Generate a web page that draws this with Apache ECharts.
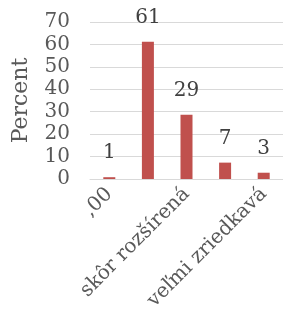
<!DOCTYPE html>
<html>
<head>
<meta charset="utf-8">
<script src="https://cdn.jsdelivr.net/npm/echarts@6/dist/echarts.min.js"></script>
<style>
html, body { margin: 0; padding: 0; background: #fff; }
#chart { width: 283px; height: 327px; }
</style>
</head>
<body>
<div id="chart"></div>
<script>
// data
const categories = [",00", "veľmi rozšírená", "skôr rozšírená", "skôr zriedkavá", "veľmi zriedkavá"]
const percent = [0.8, 61.2, 28.6, 7.3, 2.8]
const yTicks = [0, 10, 20, 30, 40, 50, 60, 70]

const chart = echarts.init(document.getElementById("chart"), null, {renderer: "canvas"})

const font = "DejaVu Serif"
const grey = "#595959"

const option = {
    animation: false,
    grid: {
        left: 90,
        right: -4,
        top: 22,
        bottom: 148
    },
    xAxis: {
        type: "category",
        data: categories,
        axisLine: {lineStyle: {color: "#d9d9d9", width: 1}},
        axisTick: {show: false},
        axisLabel: {
            interval: 1,
            rotate: 45,
            margin: 12,
            color: grey,
            fontFamily: font,
            fontSize: 20
        }
    },
    yAxis: {
        type: "value",
        min: yTicks[0],
        max: yTicks[yTicks.length - 1],
        interval: 10,
        name: "Percent",
        nameLocation: "middle",
        nameGap: 58,
        nameTextStyle: {color: grey, fontFamily: font, fontSize: 22},
        axisLine: {show: false},
        axisTick: {show: false},
        axisLabel: {margin: 20, color: grey, fontFamily: font, fontSize: 20},
        splitLine: {lineStyle: {color: "#d9d9d9", width: 1}}
    },
    series: [
        {
            type: "bar",
            data: percent,
            barWidth: 12,
            itemStyle: {color: "#C0504D"},
            label: {
                show: true,
                position: "top",
                distance: 14,
                color: "#404040",
                fontFamily: font,
                fontSize: 20,
                formatter: p => Math.round(p.value)
            }
        }
    ]
}

chart.setOption(option)
</script>
</body>
</html>
